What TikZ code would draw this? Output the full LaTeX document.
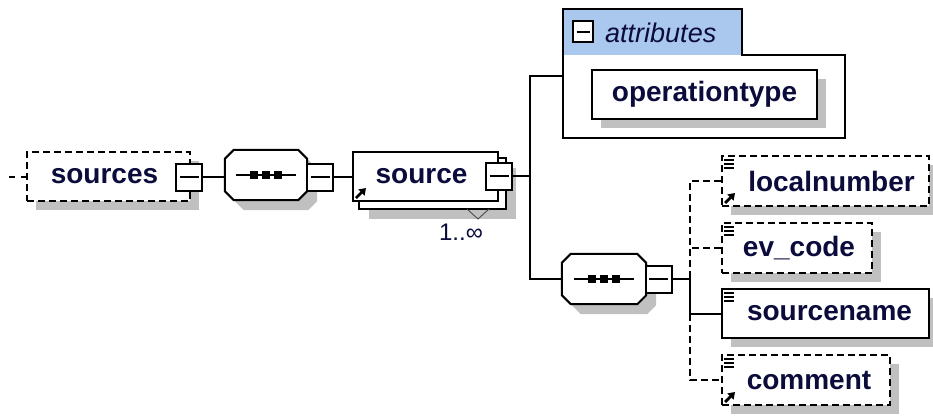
\documentclass[tikz,border=0pt]{standalone}
\usepackage{fontspec}
\setmainfont{Liberation Sans}
\usetikzlibrary{calc,backgrounds,shadows,arrows.meta}
\definecolor{txt}{RGB}{12,12,60}
\definecolor{shd}{RGB}{192,192,192}
\definecolor{attrblue}{RGB}{170,200,238}

\tikzset{
  ln/.style={line width=2pt, line join=miter},
  elembase/.style={ln, draw=black, fill=white, rectangle, inner sep=0pt,
    font=\fontsize{28}{32}\selectfont\bfseries, text=txt},
  elem/.style={elembase, general shadow={fill=shd, shadow xshift=9pt, shadow yshift=-9pt}},
  optelem/.style={elem, dash pattern=on 7pt off 4pt},
  minusbox/.style={ln, draw, fill=white, rectangle, inner sep=0pt,
    minimum width=26pt, minimum height=27pt,
    path picture={\draw[line width=2pt] ([xshift=3.5pt]path picture bounding box.west) -- ([xshift=-3.5pt]path picture bounding box.east);}},
  conn/.style={ln},
  dconn/.style={ln, dash pattern=on 7pt off 4pt},
  ghost/.style={rectangle, inner sep=0pt},
}

\newcommand{\octdraw}[4]{%
  \path[#4] ($(#1.north west)+({#2+9},{#3})$) -- ($(#1.north east)+({#2-9},{#3})$)
   -- ($(#1.north east)+({#2},{#3+9})$) -- ($(#1.south east)+({#2},{#3-9})$)
   -- ($(#1.south east)+({#2-9},{#3})$) -- ($(#1.south west)+({#2+9},{#3})$)
   -- ($(#1.south west)+({#2},{#3-9})$) -- ($(#1.north west)+({#2},{#3+9})$) -- cycle;}

\newcommand{\seqshape}[1]{%
  \begin{scope}[on background layer]
    \octdraw{#1}{10}{10}{fill=shd}
  \end{scope}
  \octdraw{#1}{0}{0}{ln, draw=black, fill=white}
  \draw[line width=2pt] ($(#1.center)+(-30,0)$) -- ($(#1.center)+(30,0)$);
  \foreach \dx in {-12,0,12} {\fill ($(#1.center)+(\dx,0)$) ++(-3.6,-3.6) rectangle ++(7.2,7.2);}
}

\newcommand{\docicon}[1]{%
  \foreach \dy in {4.5,8.5,12.5} {\draw[line width=2pt] ($(#1.north west)+(3,\dy)$) -- ++(10,0);}
}
\newcommand{\refarrow}[1]{%
  \draw[line width=2.8pt, -{Triangle[length=6.5pt,width=8.5pt]}] ($(#1.south west)+(4,-4)$) -- ++(10,-10);
}

\begin{document}
\begin{tikzpicture}[x=1pt,y=-1pt]
\begin{scope}[on background layer]
  \fill[white] (0,0) rectangle (933,416);
\end{scope}
\useasboundingbox (0,0) rectangle (933,416);

% sources
\node[optelem, minimum width=163pt, minimum height=49pt] (sources) at (108.5,176.5) {\hspace*{-8pt}sources};
\node[minusbox] (sourcesm) at (189,177) {};
\coordinate (lstart) at (9,177);
\draw[ln, dash pattern=on 6pt off 6pt] (lstart) -- (sources.west |- lstart);

% first sequence
\node[ghost, minimum width=82pt, minimum height=50pt] (seq1) at (266,175) {};
\seqshape{seq1}
\node[minusbox] (seq1m) at (320,177) {};

% source (repeating element)
\node[elembase, minimum width=145pt, minimum height=49pt] (source) at (425.5,176.5) {\hspace*{-8pt}source};
\begin{scope}[on background layer]
  \fill[shd] ($(source.north west)+(17,17)$) rectangle ($(source.south east)+(17,17)$);
  \filldraw[ln, fill=white] ($(source.north west)+(7,7)$) rectangle ($(source.south east)+(7,7)$);
  \draw[line width=0.9pt, draw=black!70] ($(source.south east)+(-32,7)$) -- ($(source.south east)+(-21,17)$) -- ($(source.south east)+(-10,7)$);
\end{scope}
\refarrow{source}
\node[minusbox] (sourcem) at (499,176) {};
\node[font=\fontsize{24}{26}\selectfont, text=txt] (card) at (461,232) {1..∞};

% attributes group
\node[ghost, minimum width=282pt, minimum height=129pt] (attrs) at (704,73.5) {};
\fill[attrblue] (attrs.north west) rectangle ($(attrs.north west)+(179,46)$);
\draw[ln] (attrs.north west) -- ($(attrs.north west)+(179,0)$) -- ($(attrs.north west)+(179,46)$)
  -- ($(attrs.north east)+(0,46)$) -- (attrs.south east) -- (attrs.south west) -- cycle;
\node[minusbox, minimum width=20pt, minimum height=21pt] (attrm) at (583,31.5) {};
\node[anchor=west, inner sep=0pt, font=\fontsize{27}{30}\selectfont\itshape, text=txt] (attrlbl) at (605,33) {attributes};
\node[elem, minimum width=225pt, minimum height=49pt] (optype) at (704.5,94.5) {operationtype};

% second sequence
\node[ghost, minimum width=84pt, minimum height=50pt] (seq2) at (604,279) {};
\seqshape{seq2}
\node[minusbox] (seq2m) at (658.5,279) {};

% children
\node[optelem, minimum width=207pt, minimum height=50pt] (localnumber) at (825.5,181) {\hspace*{12pt}localnumber};
\node[optelem, minimum width=150pt, minimum height=50pt] (evcode) at (797,248) {\hspace*{4pt}ev\_code};
\node[elem, minimum width=207pt, minimum height=49pt] (sourcename) at (825.5,313.5) {\hspace*{8pt}sourcename};
\node[optelem, minimum width=168pt, minimum height=50pt] (comment) at (806,380) {\hspace*{6pt}comment};
\docicon{localnumber}\refarrow{localnumber}
\docicon{evcode}
\docicon{sourcename}
\docicon{comment}\refarrow{comment}

% connectors
\draw[conn] (sourcesm.east) -- (sourcesm.east -| seq1.west);
\draw[conn] (seq1m.east) -- (seq1m.east -| source.west);
\coordinate (j1) at (530,176);
\draw[conn] (sourcem.east) -- (j1);
\draw[conn] (j1) |- ($(attrs.west)+(0,2.5)$);
\draw[conn] (j1) |- (seq2.west);
\coordinate (j2) at (690,279);
\draw[conn] (seq2m.east) -- (j2);
\draw[dconn] (localnumber.west) -| (j2);
\draw[dconn] (evcode.west) -- (evcode.west -| j2);
\draw[conn] ($(j2)+(0,-4)$) -- (j2 |- sourcename.west) -- (sourcename.west);
\draw[dconn] (j2 |- sourcename.west) |- (comment.west);
\end{tikzpicture}
\end{document}
